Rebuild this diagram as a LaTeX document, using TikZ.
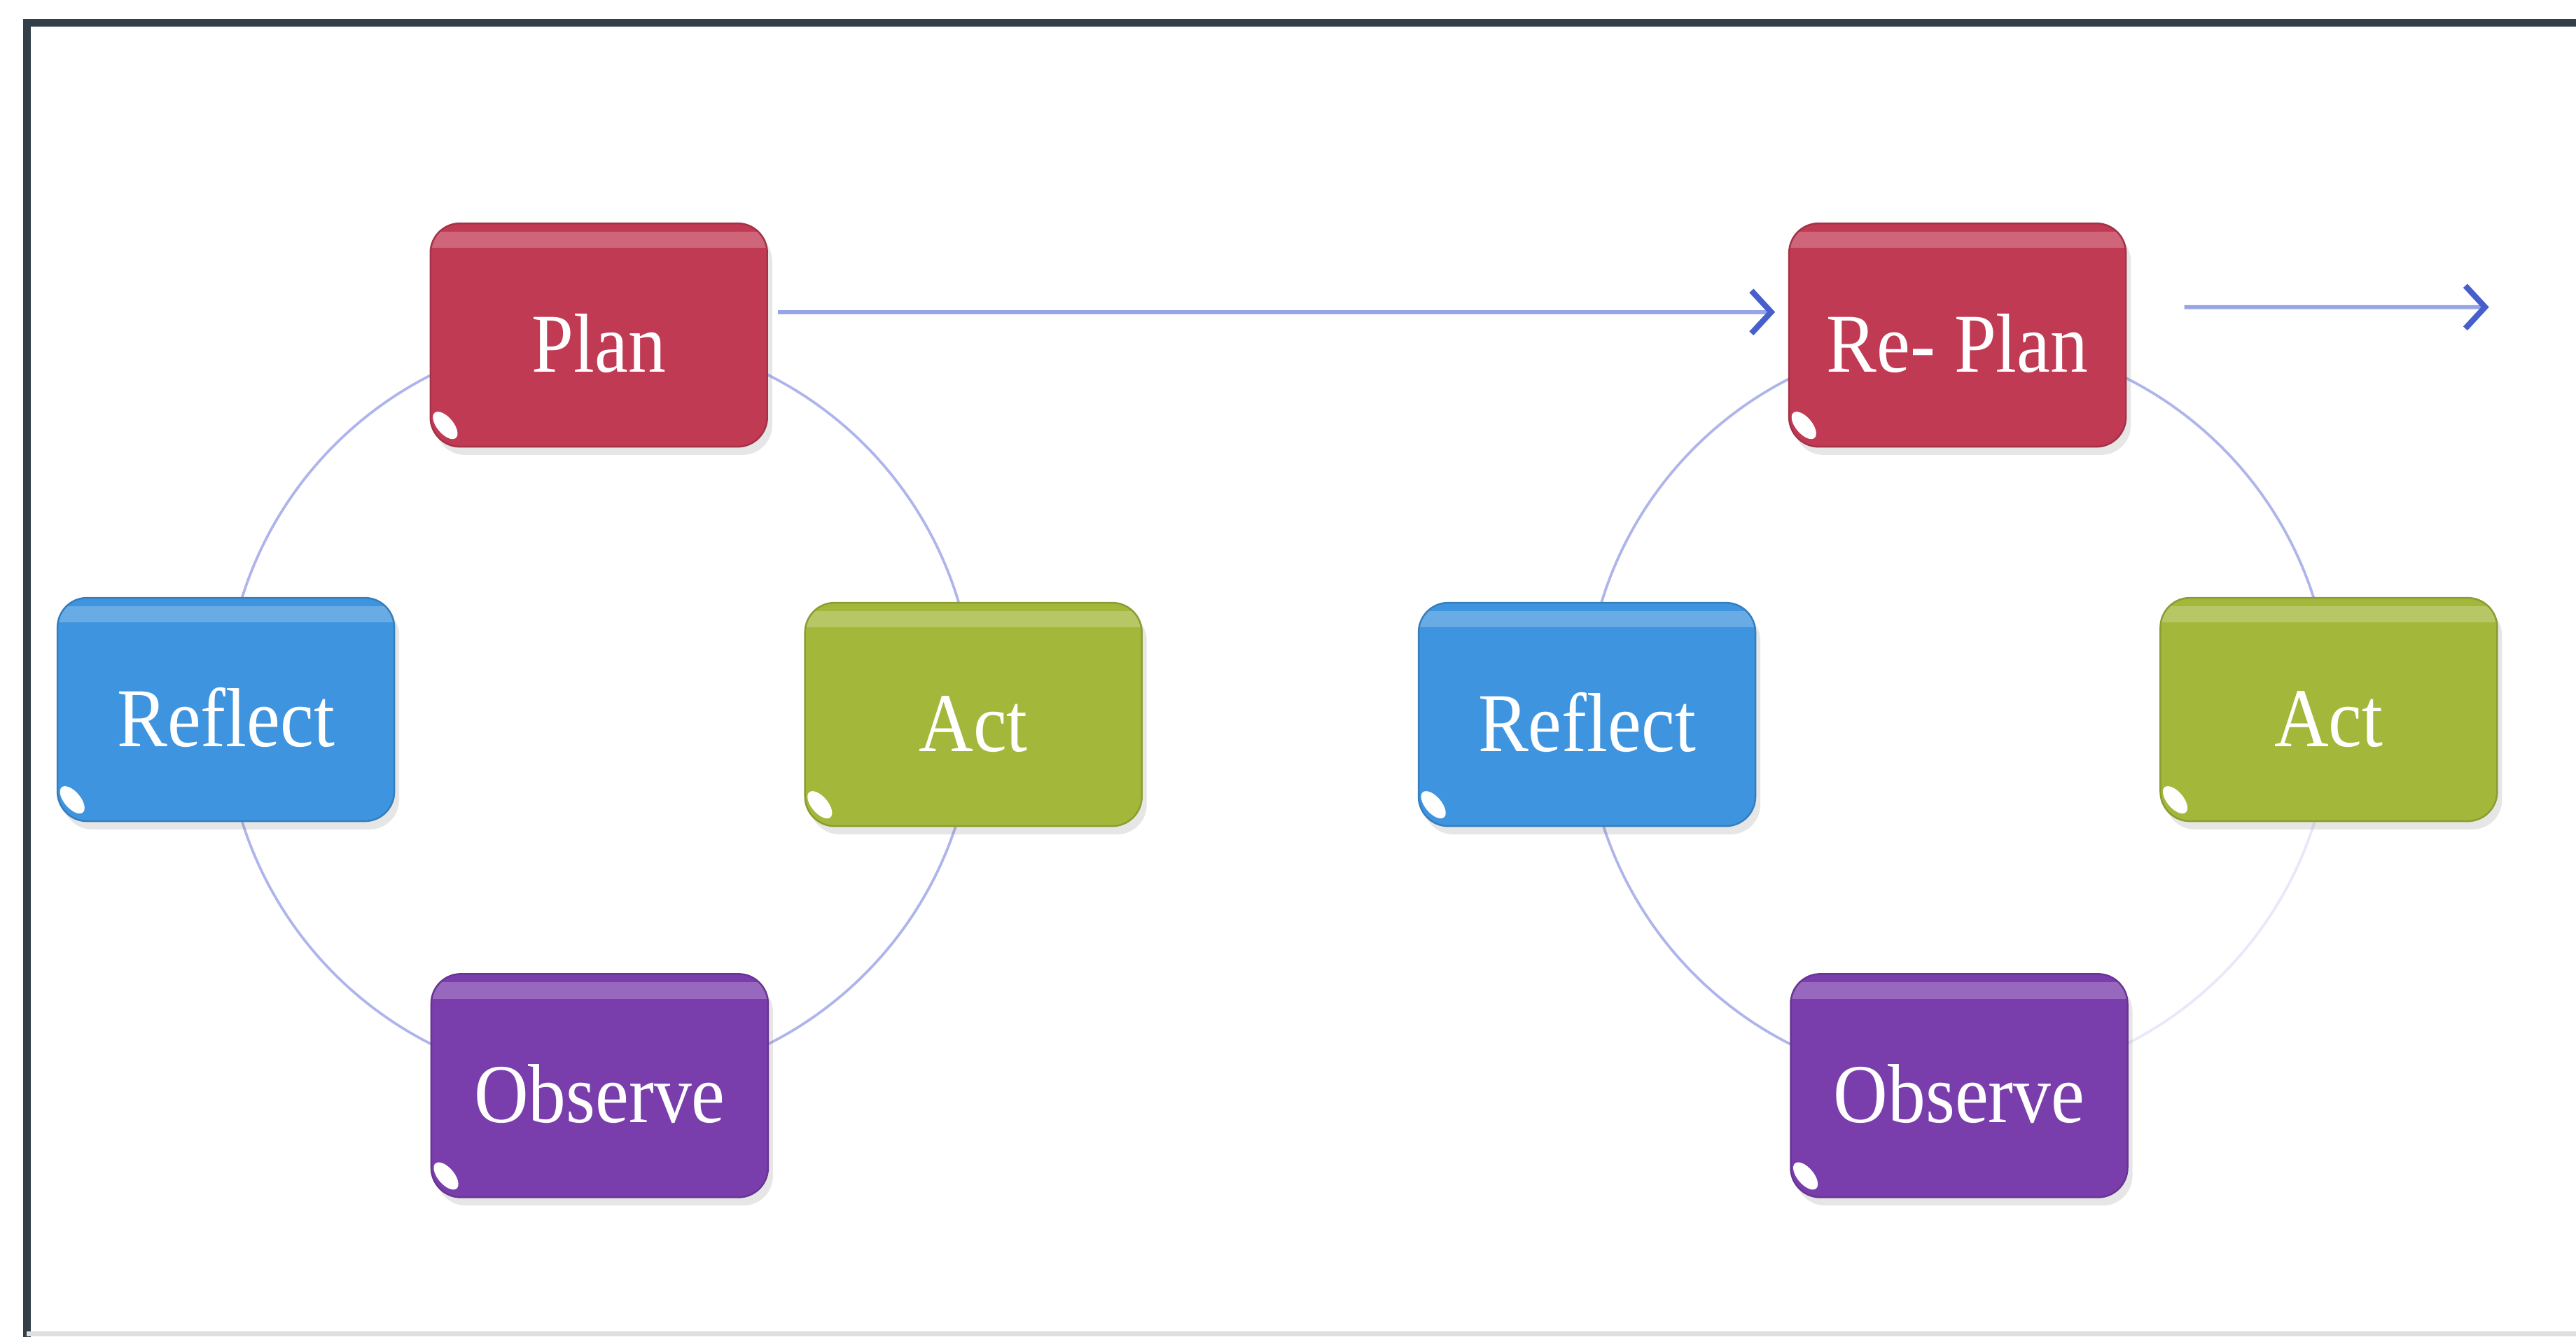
\documentclass[tikz,border=0pt]{standalone}
\usepackage{fontspec}
\setmainfont{Liberation Serif}[FakeStretch=0.9]
\usetikzlibrary{arrows.meta,shadows,positioning}

\definecolor{planred}{RGB}{193,58,84}
\definecolor{reflectblue}{RGB}{62,148,222}
\definecolor{actgreen}{RGB}{163,184,58}
\definecolor{observeviolet}{RGB}{122,62,172}
\definecolor{arcblue}{RGB}{175,180,235}
\definecolor{flowblue}{RGB}{150,165,230}
\definecolor{tipblue}{RGB}{70,95,205}
\definecolor{framecol}{RGB}{50,62,72}

\tikzset{
	stage/.style={rounded corners=1.8mm, fill=#1, draw=#1!85!black, line width=0.3pt,
		minimum width=2.05cm, minimum height=1.36cm, inner sep=0pt,
		text height=0.5cm, text depth=0.05cm,
		text=white, font=\fontsize{14.5}{16}\selectfont,
		drop shadow={opacity=0.2, shadow xshift=0.3mm, shadow yshift=-0.5mm},
		path picture={
			\fill[white,opacity=0.22,sharp corners] ([yshift=-0.5mm]path picture bounding box.north west) rectangle ([yshift=-1.5mm]path picture bounding box.north east);
			\fill[white,sharp corners] ([xshift=0.9mm,yshift=1.3mm]path picture bounding box.south west) circle [x radius=0.5mm, y radius=1.0mm, rotate=40];
		}},
	ring/.style={draw=arcblue, line width=0.45pt},
	flow/.style={draw=flowblue, line width=0.7pt, -{Straight Barb[length=1.2mm,width=2.6mm,line width=1pt,color=tipblue]}},
}

\begin{document}
\begin{tikzpicture}
	\useasboundingbox (0,0) rectangle (15.68,8.14);

	% frame
	\draw[framecol, line width=1.3pt] (0.164,0) -- (0.164,8.0) -- (15.68,8.0);
	\draw[gray!25, line width=0.8pt] (0.164,0.02) -- (15.68,0.02);

	%---------------------
	% first cycle
	%---------------------
	\coordinate (hubA) at (3.65,3.82);
	\draw[ring] (hubA) ++(90:2.28) arc[start angle=90, end angle=0, radius=2.28];
	\draw[ring] (hubA) ++(0:2.28) arc[start angle=0, end angle=-90, radius=2.28];
	\draw[ring] (hubA) ++(-90:2.28) arc[start angle=-90, end angle=-180, radius=2.28];
	\draw[ring] (hubA) ++(180:2.28) arc[start angle=180, end angle=90, radius=2.28];

	\node[stage=planred] (plan) at (3.645,6.10) {Plan};
	\node[stage=actgreen] (act) at (5.925,3.79) {Act};
	\node[stage=observeviolet] (observe) at (3.65,1.53) {Observe};
	\node[stage=reflectblue] (reflect) at (1.375,3.82) {Reflect};

	%---------------------
	% second cycle
	%---------------------
	\coordinate (hubB) at (11.92,3.81);
	\draw[ring] (hubB) ++(90:2.27) arc[start angle=90, end angle=0, radius=2.27];
	\draw[ring, opacity=0.3] (hubB) ++(0:2.27) arc[start angle=0, end angle=-90, radius=2.27];
	\draw[ring] (hubB) ++(-90:2.27) arc[start angle=-90, end angle=-180, radius=2.27];
	\draw[ring] (hubB) ++(180:2.27) arc[start angle=180, end angle=90, radius=2.27];

	\node[stage=planred] (replan) at (11.915,6.10) {Re- Plan};
	\node[stage=actgreen] (actB) at (14.175,3.82) {Act};
	\node[stage=observeviolet] (observeB) at (11.925,1.53) {Observe};
	\node[stage=reflectblue] (reflectB) at (9.66,3.79) {Reflect};

	% flow
	\draw[flow] ([xshift=0.6mm,yshift=1.4mm]plan.east) -- ([xshift=-0.8mm,yshift=1.4mm]replan.west);
	\coordinate (ahead) at (15.15,6.27);
	\draw[flow] ([xshift=3.5mm,yshift=1.7mm]replan.east) -- (ahead);

\end{tikzpicture}
\end{document}
